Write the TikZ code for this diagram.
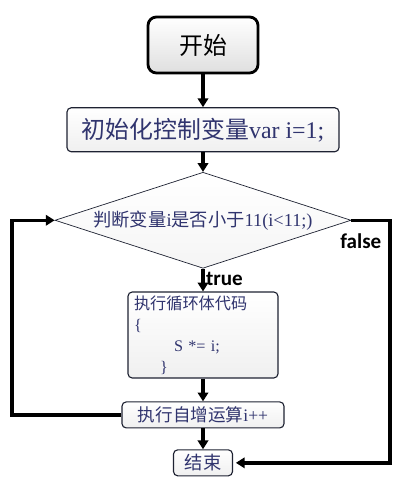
\documentclass[tikz,border=0pt]{standalone}
\usepackage{fontspec}
\setmainfont{Liberation Serif}
\newfontfamily\cjk{Noto Sans CJK SC}
\newfontfamily\lbl{Carlito}
\usetikzlibrary{arrows.meta,positioning,shapes.geometric}
\definecolor{flowtext}{RGB}{48,52,110}
\definecolor{flowedge}{RGB}{30,34,50}

\begin{document}
\begin{tikzpicture}[node distance=0.57cm,
        box/.style={rectangle,rounded corners=3pt,draw=flowedge,line width=0.8pt,
          top color=white,bottom color=gray!12,inner sep=2pt,text=flowtext},
        startbox/.style={box,draw=black,line width=2pt,rounded corners=6pt,
          bottom color=gray!25,text=black,minimum width=2.75cm,minimum height=1.4cm},
        decision/.style={diamond,draw=flowedge,line width=0.5pt,aspect=3.2,inner sep=0pt,
          top color=white,bottom color=gray!8,text=flowtext,
          minimum width=7.4cm,minimum height=2.4cm},
        arrow/.style={-{Triangle[length=2.2mm,width=2.6mm]},line width=2.4pt},
        flag/.style={font=\lbl\bfseries\fontsize{15}{17}\selectfont,inner sep=1pt}]
        \useasboundingbox (0,0) rectangle (10,12.275);
        \node[startbox,font=\fontsize{17}{19}\selectfont] (start) at (5.075,11.15) {\cjk 开始};
        \node[box,below=0.82cm of start,minimum width=6.8cm,minimum height=1.1cm,
          font=\fontsize{17}{19}\selectfont] (init) {{\cjk 初始化控制变量}var i=1;};
        \node[decision,below=0.49cm of init,font=\fontsize{13}{15}\selectfont]
          (test) {{\cjk 判断变量}i{\cjk 是否小于}11(i<11;)};
        \node[box,below=of test,minimum width=3.75cm,minimum height=2.15cm,
          text width=3.45cm,align=left,inner xsep=0.15cm,inner ysep=0.05cm,
          font=\fontsize{11.5}{15}\selectfont] (body)
          {{\cjk 执行循环体代码}\\\{\\\hspace{1cm}S *= i;\\\hspace{0.65cm}\}};
        \node[box,below=of body,minimum width=4.05cm,minimum height=0.65cm,
          font=\fontsize{12.5}{14}\selectfont] (incr) {{\cjk 执行自增运算}i++};
        \node[box,below=0.52cm of incr,minimum width=1.475cm,minimum height=0.65cm,
          font=\fontsize{13}{15}\selectfont] (stop) {\cjk 结束};
        \coordinate (back) at (0.3,0);
        \coordinate (out) at (9.75,0);
        \draw[arrow] (start) -- (init);
        \draw[arrow] (init) -- (test);
        \draw[arrow] (test) -- node[flag,pos=0.45,right]{true} (body);
        \draw[arrow] (body) -- (incr);
        \draw[arrow] (incr) -- (stop);
        \draw[arrow] (incr.west) -- (back |- incr.west) |- (test.west);
        \draw[arrow,shorten >=2pt] (test.east) -- (out |- test.east)
          node[flag,below left=7pt and 4pt]{false} |- (stop.east);
      \end{tikzpicture}
\end{document}
